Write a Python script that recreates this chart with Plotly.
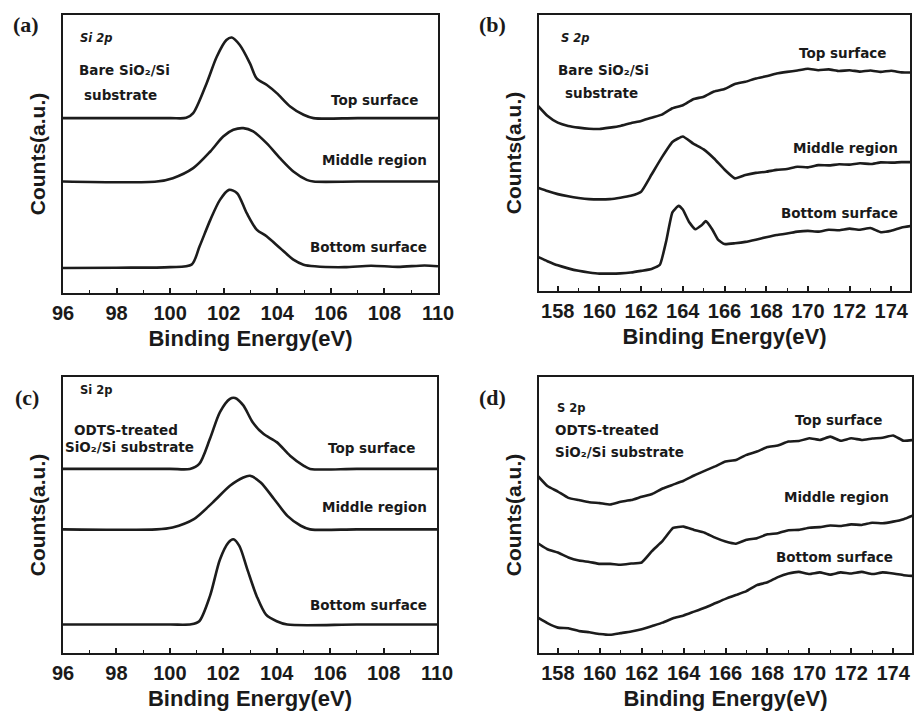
import plotly.graph_objects as go

W, H = 914, 711

# ---------------- Data (arbitrary counts, stacked with offsets) ----------------
# Panel (a): Si 2p, bare SiO2/Si
a_top_x = [96.0, 100.0, 100.6, 100.86, 101.36, 101.74, 102.1, 102.3, 102.6, 102.98, 103.23, 103.6, 103.98, 104.48, 104.98, 105.35, 107.0, 110.0]
a_top_y = [62.9, 62.9, 63.0, 64.7, 75.4, 85.0, 91.0, 91.9, 89.2, 82.6, 77.2, 74.9, 71.9, 67.1, 64.1, 62.9, 62.9, 62.9]
a_mid_x = [96.0, 99.5, 100.1, 100.86, 101.5, 101.98, 102.36, 102.73, 103.1, 103.6, 104.1, 104.6, 105.1, 105.35, 107.0, 110.0]
a_mid_y = [40.1, 40.1, 41.3, 44.9, 50.9, 56.3, 58.7, 59.3, 58.1, 53.9, 48.5, 43.7, 40.7, 40.1, 40.1, 40.1]
a_bot_x = [96.0, 98.0, 100.0, 100.8, 101.1, 101.5, 101.86, 102.2, 102.5, 102.86, 103.23, 103.6, 104.1, 104.6, 104.98, 105.4, 106.5, 107.5, 108.5, 109.5, 110.0]
a_bot_y = [9.0, 9.1, 9.3, 10.2, 16.8, 26.3, 33.5, 37.1, 35.9, 28.7, 22.8, 20.4, 16.2, 12.0, 10.2, 9.6, 9.3, 9.8, 9.4, 9.9, 9.6]

# Panel (c): Si 2p, ODTS-treated SiO2/Si
c_top_x = [96.0, 100.0, 100.75, 101.1, 101.5, 101.875, 102.25, 102.44, 102.75, 103.1, 103.5, 104.0, 104.5, 105.0, 105.25, 107.0, 110.0]
c_top_y = [66.7, 66.7, 66.7, 68.5, 77.6, 87.3, 92.1, 92.4, 89.7, 83.6, 79.4, 76.4, 71.5, 67.9, 66.7, 66.7, 66.7]
c_mid_x = [96.0, 99.5, 100.1, 100.9, 101.6, 102.25, 102.75, 103.0, 103.4, 103.9, 104.4, 104.9, 105.25, 107.0, 110.0]
c_mid_y = [44.8, 44.8, 45.5, 48.5, 54.5, 60.6, 63.6, 64.2, 61.8, 55.8, 49.7, 46.1, 44.8, 44.8, 44.8]
c_bot_x = [96.0, 100.0, 100.8, 101.1, 101.5, 101.875, 102.19, 102.375, 102.6, 102.9, 103.25, 103.6, 104.0, 104.4, 107.0, 110.0]
c_bot_y = [10.3, 10.3, 10.4, 11.5, 20.6, 33.9, 40.0, 41.2, 38.8, 30.3, 20.6, 13.9, 11.5, 10.3, 10.3, 10.3]

# S 2p energy grid (eV)
s_x = [157.0, 157.5, 158.0, 158.5, 159.0, 159.5, 160.0, 160.5, 161.0, 161.5,
       162.0, 162.5, 163.0, 163.5, 164.0, 164.5, 165.0, 165.5, 166.0, 166.5,
       167.0, 167.5, 168.0, 168.5, 169.0, 169.5, 170.0, 170.5, 171.0, 171.5,
       172.0, 172.5, 173.0, 173.5, 174.0, 174.5, 175.0]

# Panel (b): S 2p, bare SiO2/Si
b_top_y = [67.5, 63.5, 61.0, 59.8, 59.2, 58.8, 58.7, 59.2, 59.8, 60.8,
           61.6, 62.8, 63.9, 66.2, 67.3, 69.5, 70.4, 72.3, 73.2, 75.0,
           75.8, 77.0, 77.8, 78.8, 79.4, 79.9, 80.5, 80.0, 80.3, 79.7,
           80.0, 79.5, 79.9, 79.4, 79.8, 79.2, 79.2]
b_mid_y = [37.5, 36.2, 35.1, 34.3, 33.7, 33.3, 33.2, 33.3, 33.8, 34.5,
           36.0, 42.2, 48.5, 54.0, 56.0, 53.4, 51.3, 48.0, 44.0, 40.8,
           42.0, 42.8, 43.2, 43.9, 44.2, 45.0, 44.8, 45.6, 45.5, 45.9,
           45.8, 46.3, 46.0, 46.6, 46.5, 46.7, 46.7]
b_bot_x = [157.0, 157.5, 158.0, 158.5, 159.0, 159.5, 160.0, 160.5, 161.0, 161.5,
           162.0, 162.5, 162.9, 163.2, 163.5, 163.8, 164.0, 164.3, 164.6, 164.9,
           165.1, 165.4, 165.7, 166.0, 166.5, 167.0, 167.5, 168.0, 168.5, 169.0,
           169.5, 170.0, 170.5, 171.0, 171.5, 172.0, 172.5, 173.0, 173.5, 174.0,
           174.5, 175.0]
b_bot_y = [12.5, 10.8, 9.3, 8.2, 7.3, 6.7, 6.3, 6.3, 6.4, 6.7,
           7.3, 8.0, 9.5, 18.0, 28.5, 30.9, 29.5, 25.0, 22.4, 23.8,
           25.3, 22.5, 18.5, 17.0, 17.3, 17.8, 18.6, 19.5, 20.3, 20.8,
           21.5, 21.8, 21.5, 22.2, 22.0, 22.6, 22.2, 22.8, 21.3, 21.8,
           23.0, 23.6]

# Panel (d): S 2p, ODTS-treated SiO2/Si
d_top_y = [64.5, 60.5, 58.5, 56.2, 55.4, 54.6, 54.3, 53.8, 54.8, 55.4,
           56.6, 57.6, 59.6, 61.0, 62.4, 64.3, 66.0, 67.6, 69.4, 69.9,
           71.8, 73.0, 74.6, 75.2, 76.6, 76.8, 77.8, 77.2, 78.4, 76.9,
           77.8, 77.2, 77.7, 78.0, 78.8, 76.9, 77.2]
d_mid_y = [40.0, 37.6, 36.4, 34.6, 33.5, 33.0, 32.3, 32.3, 32.0, 32.4,
           32.8, 37.0, 40.6, 45.3, 45.8, 44.6, 43.6, 41.8, 40.4, 39.6,
           41.0, 41.6, 43.0, 43.4, 44.5, 44.6, 45.4, 45.6, 46.2, 46.0,
           46.6, 46.4, 47.2, 47.0, 47.6, 48.5, 50.0]
d_bot_y = [13.0, 10.8, 9.2, 9.0, 8.0, 7.5, 6.9, 6.6, 7.2, 7.8,
           8.6, 9.8, 11.0, 12.6, 13.6, 15.0, 16.4, 18.0, 19.6, 21.0,
           22.4, 24.6, 25.6, 27.5, 28.8, 29.4, 28.6, 29.2, 28.4, 29.2,
           28.8, 29.4, 28.6, 29.2, 28.8, 28.2, 27.9]

si_ticks = [96, 98, 100, 102, 104, 106, 108, 110]
s_ticks = [158, 160, 162, 164, 166, 168, 170, 172, 174]
si_range = [96, 110]
s_range = [157.1, 174.9]
x_title = "Binding Energy(eV)"
y_title = "Counts(a.u.)"

# ---------------- Figure ----------------
LINE = dict(color="#1c1c1c", width=2.6)
fig = go.Figure()

def add(x, y, ax, smooth):
    fig.add_trace(go.Scatter(
        x=x, y=y, mode="lines", xaxis="x" + ax, yaxis="y" + ax,
        line=dict(LINE, shape="spline", smoothing=0.8 if smooth else 0.4),
        showlegend=False, hoverinfo="skip"))

for x, y in [(a_top_x, a_top_y), (a_mid_x, a_mid_y), (a_bot_x, a_bot_y)]:
    add(x, y, "", True)
for x, y in [(s_x, b_top_y), (s_x, b_mid_y), (b_bot_x, b_bot_y)]:
    add(x, y, "2", False)
for x, y in [(c_top_x, c_top_y), (c_mid_x, c_mid_y), (c_bot_x, c_bot_y)]:
    add(x, y, "3", True)
for x, y in [(s_x, d_top_y), (s_x, d_mid_y), (s_x, d_bot_y)]:
    add(x, y, "4", False)

def dom(a, b, total):
    return [a / total, b / total]

def ydom(top, bottom):
    return [1 - bottom / H, 1 - top / H]

SANS = "Arial, Liberation Sans"
WIDE = "DejaVu Sans"
INK = "#1a1a1a"
TICKFONT = dict(family=SANS, size=20, color=INK, weight="bold")

def xax(domain, rng, ticks, anchor):
    return dict(domain=domain, range=rng, tickvals=ticks, anchor=anchor,
                showline=True, mirror=True, linecolor=INK, linewidth=2.2,
                ticks="inside", ticklen=5, tickwidth=1.8, tickcolor=INK,
                minor=dict(ticks="inside", ticklen=3, tickwidth=1.2, tickcolor=INK),
                showgrid=False, zeroline=False, tickfont=TICKFONT, ticklabelstandoff=1,
                title=dict(text=x_title, standoff=8,
                           font=dict(family=SANS, size=22, color=INK, weight="bold")))

def yax(domain, anchor):
    return dict(domain=domain, range=[0, 100], anchor=anchor,
                showline=True, mirror=True, linecolor=INK, linewidth=2.2,
                ticks="", showticklabels=False, showgrid=False, zeroline=False,
                title=dict(text=y_title, standoff=10,
                           font=dict(family=SANS, size=21, color=INK, weight="bold")))

fig.update_layout(
    width=W, height=H, margin=dict(l=0, r=0, t=0, b=0, autoexpand=False),
    paper_bgcolor="white", plot_bgcolor="white",
    xaxis=xax(dom(63, 438, W), si_range, si_ticks, "y"),
    yaxis=yax(ydom(15, 293), "x"),
    xaxis2=xax(dom(539, 910, W), s_range, s_ticks, "y2"),
    yaxis2=yax(ydom(15, 291), "x2"),
    xaxis3=xax(dom(63, 437, W), si_range, si_ticks, "y3"),
    yaxis3=yax(ydom(377, 653), "x3"),
    xaxis4=xax(dom(539, 912, W), s_range, s_ticks, "y4"),
    yaxis4=yax(ydom(377, 653), "x4"),
)

ann = []

def txt(x, y, s, size=13, anchor="left", family=SANS, weight="bold", italic=False):
    ann.append(dict(x=x / W, y=1 - y / H, xref="paper", yref="paper", text=s,
                    showarrow=False, xanchor=anchor, yanchor="middle", borderpad=0,
                    font=dict(family=family, size=size, color=INK, weight=weight,
                              style="italic" if italic else "normal")))

SERIF = "Liberation Serif, Times New Roman"
SMALL = 13.5

def small(x, y, s, anchor="left", size=SMALL, italic=False):
    txt(x, y, s, size, anchor, WIDE, italic=italic)

# panel letters
txt(26, 25, "(a)", 22, "center", SERIF)
txt(492, 25, "(b)", 22, "center", SERIF)
txt(27, 397, "(c)", 22, "center", SERIF)
txt(492, 397, "(d)", 22, "center", SERIF)

# (a)
small(79, 38, "Si 2p", size=11.5, italic=True)
small(78, 70, "Bare SiO₂/Si")
small(83, 95, "substrate")
small(420, 100, "Top surface", "right")
small(428, 160, "Middle region", "right")
small(428, 247, "Bottom surface", "right")
# (b)
small(560, 38, "S 2p", size=11.5, italic=True)
small(557, 70, "Bare SiO₂/Si")
small(564, 93, "substrate")
small(888, 53, "Top surface", "right")
small(899, 148, "Middle region", "right")
small(899, 213, "Bottom surface", "right")
# (c)
small(79, 390, "Si 2p", size=11.5)
small(73, 430, "ODTS-treated")
small(64, 447, "SiO₂/Si substrate")
small(417, 448, "Top surface", "right")
small(428, 507, "Middle region", "right")
small(428, 605, "Bottom surface", "right")
# (d)
small(556, 408, "S 2p", size=11.5)
small(554, 430, "ODTS-treated")
small(554, 452, "SiO₂/Si substrate")
small(884, 420, "Top surface", "right")
small(890, 497, "Middle region", "right")
small(894, 557, "Bottom surface", "right")

fig.update_layout(annotations=ann)
fig.write_html("out.html")
